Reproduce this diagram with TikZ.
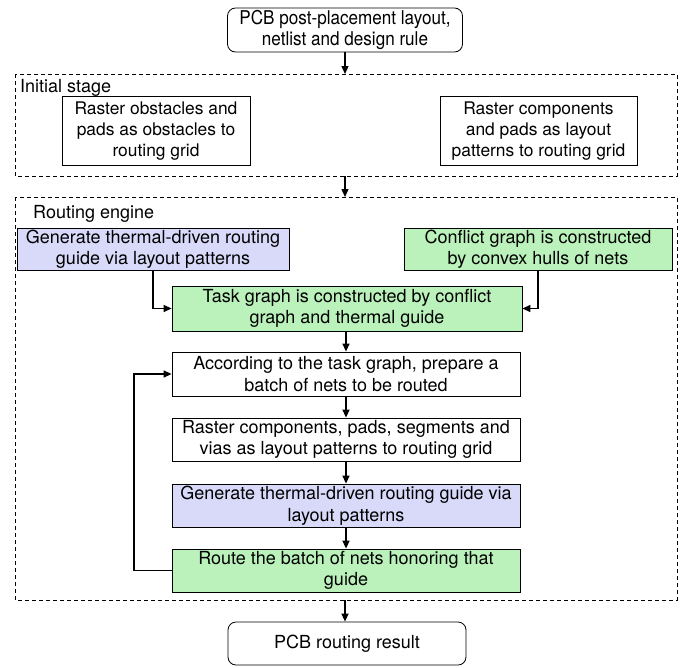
\documentclass[tikz,border=0pt]{standalone}
\usepackage{fontspec}
\setmainfont{TeX Gyre Heros}
\newfontfamily\narrowfont[FakeStretch=0.9]{TeX Gyre Heros}
\usetikzlibrary{arrows.meta}
\definecolor{gfill}{RGB}{187,242,187}
\definecolor{bfill}{RGB}{217,217,250}
\tikzset{
  box/.style={draw=black, line width=0.8pt, align=center, inner sep=0pt, font=\fontsize{18}{21.5}\selectfont},
  ibox/.style={box, font=\fontsize{17.4}{21}\selectfont},
  rbox/.style={box, rounded corners=8pt},
  stage/.style={draw=black, dashed, line width=0.7pt, dash pattern=on 4pt off 3pt},
  lbl/.style={anchor=west, inner sep=0pt, font=\fontsize{18}{21}\selectfont},
  arr/.style={-{Triangle[length=8pt,width=7pt]}, line width=1.3pt},
}
\begin{document}
\begin{tikzpicture}[x=1pt,y=-1pt]
\useasboundingbox (0,0) rectangle (685,667);
% stages
\draw[stage] (15,74) rectangle (677,176);
\node[lbl] (initlbl) at (20,88) {Initial stage};
\draw[stage] (15,197) rectangle (677,600);
\node[lbl] (englbl) at (33,214) {Routing engine};
% nodes
\node[rbox, font=\narrowfont\fontsize{19}{20.5}\selectfont, minimum width=235pt, minimum height=44pt] (input) at (345,30) {PCB post-placement layout,\\netlist and design rule};
\node[ibox, minimum width=188pt, minimum height=69pt] (obst) at (156,131) {Raster obstacles and\\pads as obstacles to\\routing grid};
\node[ibox, minimum width=197pt, minimum height=69pt] (comp) at (538.5,131) {Raster components\\and pads as layout\\patterns to routing grid};
\node[box, fill=bfill, minimum width=272pt, minimum height=42pt] (guide1) at (153,249) {Generate thermal-driven routing\\guide via layout patterns};
\node[box, fill=gfill, minimum width=268pt, minimum height=42pt] (conf) at (538,249) {Conflict graph is constructed\\by convex hulls of nets};
\node[box, fill=gfill, minimum width=350pt, minimum height=45pt] (task) at (347,308.5) {Task graph is constructed by conflict\\graph and thermal guide};
\node[box, minimum width=348pt, minimum height=44pt] (prep) at (346,374) {According to the task graph, prepare a\\batch of nets to be routed};
\node[box, minimum width=348pt, minimum height=43pt] (rast) at (346,439.5) {Raster components, pads, segments and\\vias as layout patterns to routing grid};
\node[box, fill=bfill, minimum width=348pt, minimum height=43pt] (guide2) at (346,505.5) {Generate thermal-driven routing guide via\\layout patterns};
\node[box, fill=gfill, minimum width=348pt, minimum height=43pt] (route) at (346,570.5) {Route the batch of nets honoring that\\guide};
\node[rbox, minimum width=238pt, minimum height=43pt] (result) at (347,643.5) {PCB routing result};
% coordinates on stage borders
\coordinate (s1top) at (345,74);
\coordinate (s1bot) at (345,176);
\coordinate (s2top) at (345,197);
\coordinate (s2bot) at (345,600);
\coordinate (loopx) at (134,0);
% connectors
\draw[arr] (input.south -| s1top) -- (s1top);
\draw[arr] (s1bot) -- (s2top);
\draw[arr] (guide1.south) |- (task.west);
\draw[arr] (conf.south) |- (task.east);
\draw[arr] (task.south -| prep.north) -- (prep.north);
\draw[arr] (prep) -- (rast);
\draw[arr] (rast) -- (guide2);
\draw[arr] (guide2) -- (route);
\draw[arr] (route.west) -| (loopx |- route.west) |- (prep.west);
\draw[arr] (s2bot) -- (result.north -| s2bot);
\end{tikzpicture}
\end{document}
